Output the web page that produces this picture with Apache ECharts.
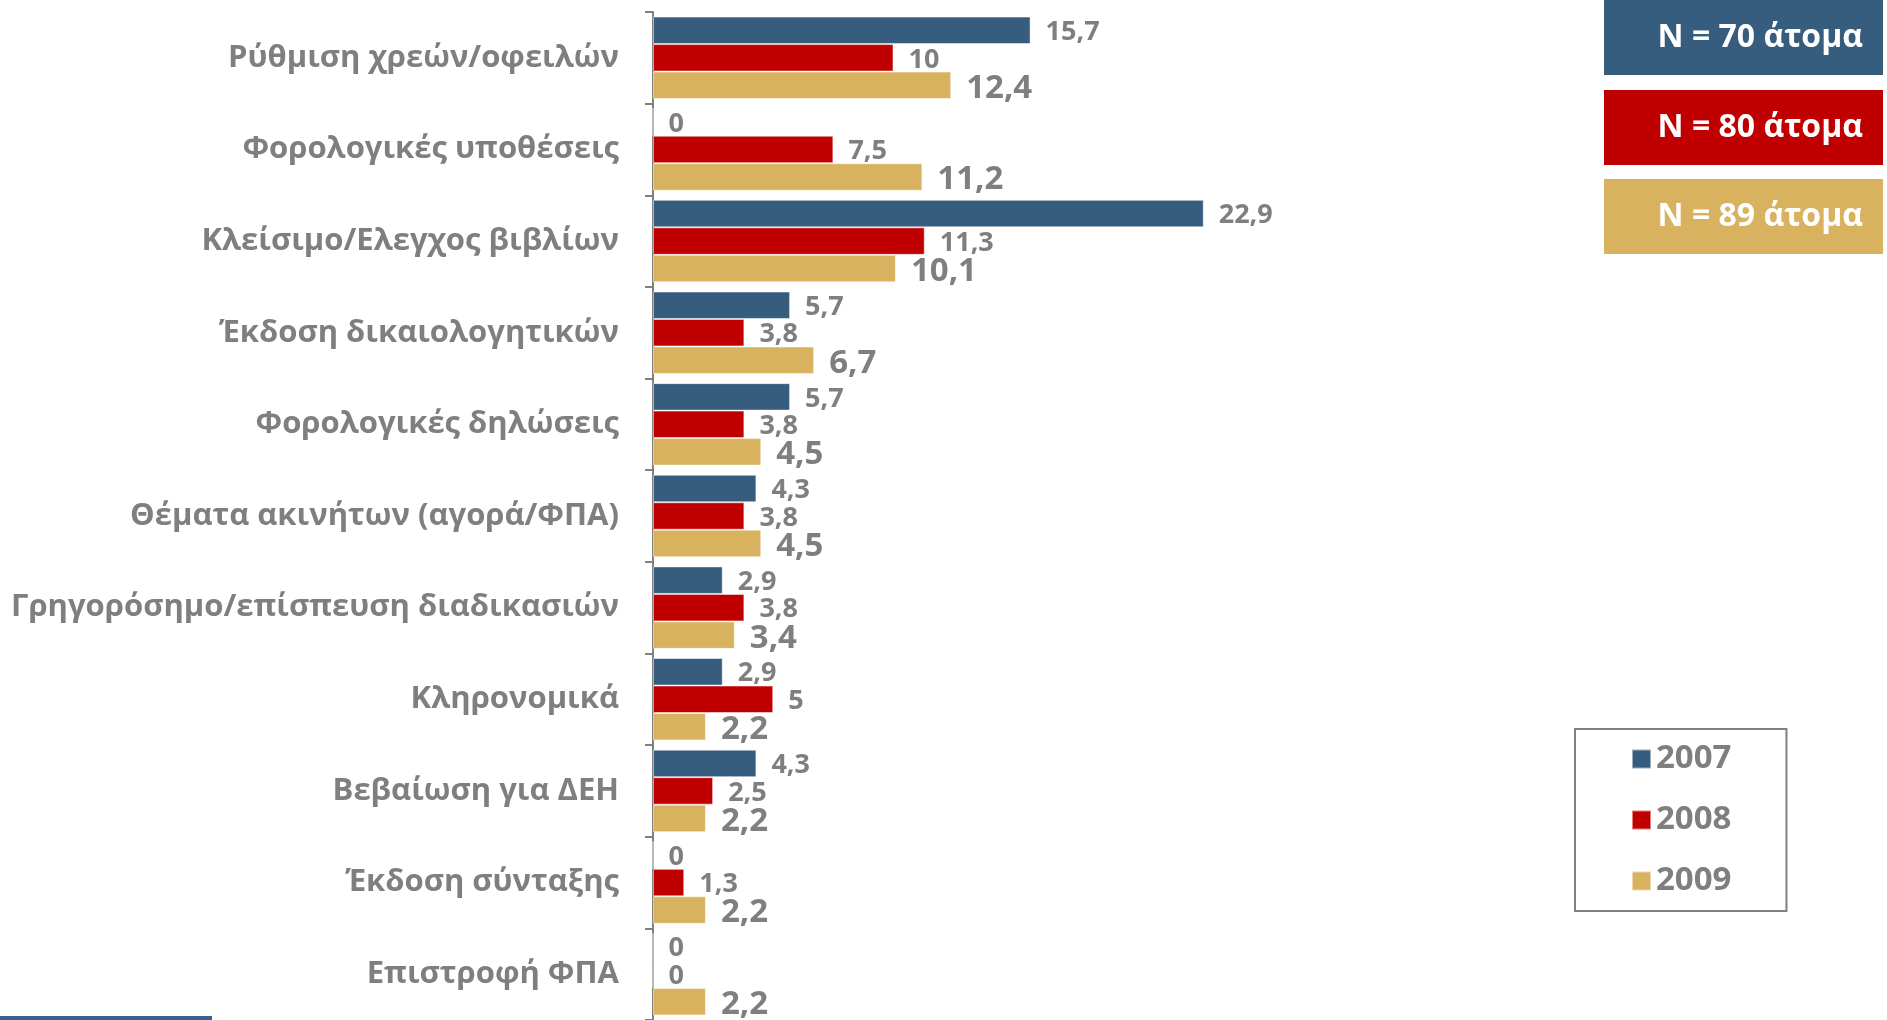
<!DOCTYPE html>
<html>
<head>
<meta charset="utf-8">
<script src="https://cdn.jsdelivr.net/npm/echarts@6/dist/echarts.min.js"></script>
<style>html,body{margin:0;padding:0;background:#fff;}#main{width:1887px;height:1020px;}</style>
</head>
<body>
<div id="main"></div>
<script>
var categories = ['Ρύθμιση χρεών/οφειλών','Φορολογικές υποθέσεις','Κλείσιμο/Ελεγχος βιβλίων','Έκδοση δικαιολογητικών','Φορολογικές δηλώσεις','Θέματα ακινήτων (αγορά/ΦΠΑ)','Γρηγορόσημο/επίσπευση διαδικασιών','Κληρονομικά','Βεβαίωση για ΔΕΗ','Έκδοση σύνταξης','Επιστροφή ΦΠΑ'];
var seriesNames = ['2007','2008','2009'];
var v2007 = [15.7,0,22.9,5.7,5.7,4.3,2.9,2.9,4.3,0,0];
var v2008 = [10,7.5,11.3,3.8,3.8,3.8,3.8,5,2.5,1.3,0];
var v2009 = [12.4,11.2,10.1,6.7,4.5,4.5,3.4,2.2,2.2,2.2,2.2];
var nLabels = ['N = 70 άτομα','N = 80 άτομα','N = 89 άτομα'];

var colors = ['#365C7E','#C00000','#D9B25F'];
var FONT = '"Open Sans", "Noto Sans", sans-serif';
var gray = '#7F7F7F';
function fmt(p){ return String(p.value).replace('.', ','); }

function mkSeries(name, data, color, fs, dy){
  return {
    name: name, type: 'bar', data: data,
    barGap: '0%', barCategoryGap: '10%',
    itemStyle: { color: color, borderColor: 'rgba(255,255,255,0.5)', borderWidth: 1 },
    label: { show: true, position: 'right', distance: 15, formatter: fmt, offset: [0, dy],
      color: gray, fontFamily: FONT, fontWeight: 'bold', fontSize: fs },
    emphasis: { disabled: true }, animation: false
  };
}

var nBoxes = nLabels.map(function(t, i){
  return {
    type: 'rect',
    shape: { x: 1604, y: [0, 90, 179][i], width: 279, height: 75 },
    style: { fill: colors[i] },
    textContent: { style: { text: t, fill: '#fff', font: 'bold 32px ' + FONT } },
    textConfig: { position: 'insideRight', distance: 20 }
  };
});

var chart = echarts.init(document.getElementById('main'), null, { renderer: 'canvas' });
chart.setOption({
  animation: false,
  backgroundColor: '#fff',
  grid: { left: 653, top: 12, height: 1010, width: 721.5, containLabel: false },
  xAxis: { type: 'value', min: 0, max: 30, show: false },
  yAxis: {
    type: 'category', data: categories, inverse: true,
    axisLine: { show: true, lineStyle: { color: '#808080', width: 2 } },
    axisTick: { show: true, length: 8, lineStyle: { color: '#808080', width: 2 } },
    axisLabel: { margin: 34, color: gray, fontFamily: FONT, fontWeight: 'bold', fontSize: 31 }
  },
  legend: {
    orient: 'vertical', left: 1575, top: 729,
    data: seriesNames,
    icon: 'rect', itemWidth: 19, itemHeight: 19, itemGap: 21,
    borderColor: '#808080', borderWidth: 2,
    padding: [10, 55, 10, 56],
    textStyle: { color: gray, fontFamily: FONT, fontWeight: 'bold', fontSize: 33, lineHeight: 40 }
  },
  graphic: nBoxes.concat([
    { type: 'rect', shape: { x: 0, y: 1016, width: 212, height: 4 }, style: { fill: '#3B5F8E' } }
  ]),
  series: [
    mkSeries(seriesNames[0], v2007, colors[0], 27, 2),
    mkSeries(seriesNames[1], v2008, colors[1], 27, 2),
    mkSeries(seriesNames[2], v2009, colors[2], 33, 3)
  ]
});
</script>
</body>
</html>
